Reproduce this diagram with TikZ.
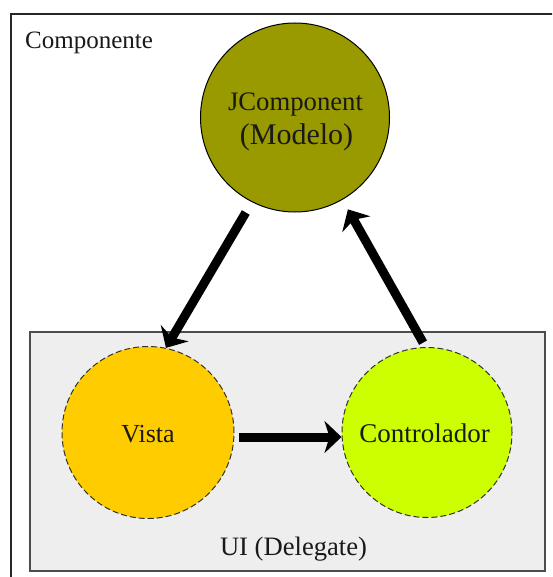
\documentclass[tikz,border=0pt]{standalone}
\usepackage{fontspec}
\setmainfont{Liberation Serif}
\usetikzlibrary{arrows.meta}
\definecolor{modelo}{HTML}{999900}
\definecolor{vista}{HTML}{FFCC00}
\definecolor{ctrl}{HTML}{CCFF00}
\definecolor{delegate}{HTML}{EEEEEE}
\tikzset{
  ball/.style={circle, inner sep=0pt, draw=black, line width=1pt},
  dashball/.style={ball, draw=black!80, dash pattern=on 6pt off 3pt},
  lbl/.style={inner sep=0pt, anchor=base, text=black!90},
  flow/.style={line width=9pt, -{Stealth[length=17pt, width=32pt, inset=5pt]}},
}
\begin{document}
\begin{tikzpicture}[x=1pt, y=-1pt]
  \useasboundingbox (0,0) rectangle (552,577);
  \clip (0,0) rectangle (552,577);
  % outer component frame, running past the right and bottom edges
  \draw[line width=2pt, black!85] (11,600) -- (11,14) -- (600,14);
  \node[lbl, anchor=base west] (comp) at (25,49) {\fontsize{25}{30}\selectfont Componente};

  % UI delegate box
  \node[draw=black!70, fill=delegate, line width=1.5pt, inner sep=0pt,
        minimum width=515pt, minimum height=239pt] (ui) at (287.5,451.5) {};
  \node[lbl] (uitxt) at (293.5,555) {\fontsize{26.6}{30}\selectfont UI (Delegate)};

  % model, view and controller
  \node[ball, fill=modelo, minimum size=189pt] (M) at (295,117.5) {};
  \node[lbl] (mt1) at (295.5,111) {\fontsize{26.7}{30}\selectfont JComponent};
  \node[lbl] (mt2) at (296.5,145) {\fontsize{30}{34}\selectfont (Modelo)};

  \node[dashball, fill=vista, minimum size=172pt] (V) at (148,432.5) {};
  \node[lbl] (vt) at (148,442) {\fontsize{26}{30}\selectfont Vista};

  \node[dashball, fill=ctrl, minimum size=170pt] (C) at (427,432.5) {};
  \node[lbl] (ct) at (424.5,442) {\fontsize{27}{30}\selectfont Controlador};

  % data flow
  \draw[flow, shorten <=12pt] (M.243) -- (V.78);
  \draw[flow, shorten <=5pt, shorten >=11pt] (C.91) -- (M.300);
  \draw[flow, shorten <=4pt] ([yshift=-4.5pt]V.east) -- ([yshift=-4.5pt]C.west);
\end{tikzpicture}
\end{document}
